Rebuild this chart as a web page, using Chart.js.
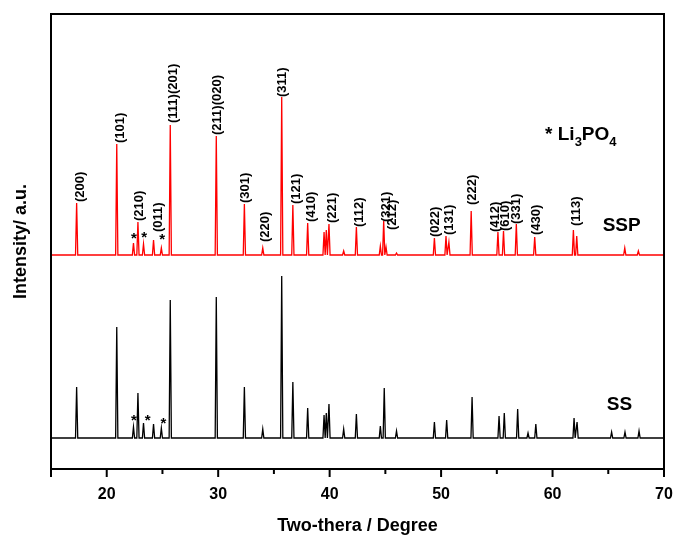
<!DOCTYPE html>
<html>
<head>
<meta charset="utf-8">
<script src="https://cdn.jsdelivr.net/npm/chart.js@4.4.1/dist/chart.umd.min.js"></script>
<style>
    html, body { margin: 0; padding: 0; background: #fff; }
</style>
</head>
<body>
<canvas id="xrdChart" width="675" height="539"></canvas>
<script>
// SSP (red, upper trace): baseline and peak list, 2θ in degrees / intensity a.u.
const sspBase = 214;
const sspPeakPos = [17.3, 20.9, 22.4, 22.8, 23.3, 24.2, 24.9, 25.7, 29.83, 32.35, 34.0, 35.7, 36.7, 38.03,
    39.5, 39.7, 39.94, 41.26, 42.4, 44.55, 44.85, 45.06, 46.0, 49.4, 50.44, 50.7, 52.7, 55.1, 55.6,
    56.75, 58.4, 61.87, 62.17, 66.48, 67.7];
const sspPeakInt = [266, 325, 226, 247, 225, 229, 221, 344, 333, 265, 221, 372, 264, 246,
    237, 239, 245, 218, 242, 223, 248, 222, 216, 231, 233, 227, 258, 237, 238,
    245, 232, 239, 233, 221, 218];

// SS (black, lower trace)
const ssBase = 31;
const ssPeakPos = [17.3, 20.9, 22.4, 22.8, 23.3, 24.2, 24.9, 25.7, 29.83, 32.35, 34.0, 35.7, 36.7, 38.03,
    39.5, 39.7, 39.94, 41.26, 42.4, 44.55, 44.9, 46.0, 49.4, 50.5, 52.78, 55.2, 55.67, 56.87, 57.8,
    58.5, 61.93, 62.2, 65.3, 66.5, 67.76];
const ssPeakInt = [82, 142, 42, 76, 46, 45, 41, 169, 172, 82, 40, 193, 87, 61,
    54, 56, 65, 40, 55, 43, 81, 38, 47, 49, 72, 53, 56, 60, 36,
    45, 51, 47, 37, 37, 38];

// hkl labels on the SSP trace
const hklText = ['(200)', '(101)', '(210)', '(011)', '(111)(201)', '(211)(020)', '(301)', '(220)', '(311)',
    '(121)', '(410)', '(221)', '(112)', '(321)', '(212)', '(022)', '(131)', '(222)', '(412)', '(610)',
    '(331)', '(430)', '(113)'];
const hklPos = [17.60, 21.19, 22.92, 24.63, 25.97, 29.96, 32.41, 34.20, 35.75,
    37.05, 38.33, 40.28, 42.66, 45.06, 45.66, 49.52, 50.71, 52.84, 54.90, 55.74,
    56.78, 58.52, 62.17];
const hklBase = [267, 326, 248, 237, 346, 334, 266, 227, 372,
    265, 247, 246, 242, 247, 239, 232, 234, 264, 237, 238,
    245, 234, 243];

// Li3PO4 impurity stars
const sspStarPos = [22.45, 23.35, 24.98];
const sspStarInt = [234, 235, 233];
const ssStarPos = [22.45, 23.68, 25.08];
const ssStarInt = [52, 52, 49];

const xTicks = [20, 30, 40, 50, 60, 70];

const FONT = 'Arial, "Liberation Sans", sans-serif';

function trace(base, pos, inten) {
    const pts = [{ x: 15, y: base }];
    pos.forEach(function (c, i) {
        pts.push({ x: c - 0.1, y: base });
        pts.push({ x: c, y: inten[i] });
        pts.push({ x: c + 0.1, y: base });
    });
    pts.push({ x: 70, y: base });
    return pts;
}

const decor = {
    id: 'decor',
    afterDatasetsDraw: function (chart) {
        const ctx = chart.ctx;
        const xs = chart.scales.x;
        const ys = chart.scales.y;
        const a = chart.chartArea;

        ctx.save();
        // frame
        ctx.strokeStyle = '#000';
        ctx.lineWidth = 2;
        ctx.beginPath();
        ctx.moveTo(a.left, a.bottom + 8);
        ctx.lineTo(a.left, a.top);
        ctx.lineTo(a.right, a.top);
        ctx.lineTo(a.right, a.bottom + 8);
        ctx.moveTo(a.left, a.bottom);
        ctx.lineTo(a.right, a.bottom);
        ctx.stroke();

        // ticks, minor every 5
        for (let v = 20; v <= 70; v += 5) {
            const px = xs.getPixelForValue(v);
            const len = v % 10 === 0 ? 8 : 5;
            ctx.beginPath();
            ctx.moveTo(px, a.bottom);
            ctx.lineTo(px, a.bottom + len);
            ctx.stroke();
        }

        // hkl labels
        ctx.fillStyle = '#000';
        ctx.font = 'bold 13px ' + FONT;
        ctx.textAlign = 'left';
        ctx.textBaseline = 'middle';
        hklText.forEach(function (t, i) {
            ctx.save();
            ctx.translate(xs.getPixelForValue(hklPos[i]), ys.getPixelForValue(hklBase[i]));
            ctx.rotate(-Math.PI / 2);
            ctx.fillText(t, 0, 0);
            ctx.restore();
        });

        // stars
        ctx.font = 'bold 15px ' + FONT;
        ctx.textAlign = 'center';
        ctx.textBaseline = 'middle';
        sspStarPos.forEach(function (p, i) {
            ctx.fillText('*', xs.getPixelForValue(p), ys.getPixelForValue(sspStarInt[i]) + 4);
        });
        ssStarPos.forEach(function (p, i) {
            ctx.fillText('*', xs.getPixelForValue(p), ys.getPixelForValue(ssStarInt[i]) + 4);
        });

        // legend text: * Li3PO4
        ctx.textAlign = 'left';
        ctx.textBaseline = 'alphabetic';
        let lx = xs.getPixelForValue(59.33);
        const ly = ys.getPixelForValue(329);
        const parts = [['* Li', 19, 0], ['3', 13, 6], ['PO', 19, 0], ['4', 13, 6]];
        parts.forEach(function (p) {
            ctx.font = 'bold ' + p[1] + 'px ' + FONT;
            ctx.fillText(p[0], lx, ly + p[2]);
            lx += ctx.measureText(p[0]).width;
        });

        ctx.font = 'bold 19px ' + FONT;
        ctx.textBaseline = 'middle';
        ctx.fillText('SSP', xs.getPixelForValue(64.5), ys.getPixelForValue(243));
        ctx.fillText('SS', xs.getPixelForValue(64.86), ys.getPixelForValue(64));
        ctx.restore();
    }
};

new Chart(document.getElementById('xrdChart'), {
    type: 'scatter',
    data: {
        datasets: [
            {
                label: 'SSP',
                data: trace(sspBase, sspPeakPos, sspPeakInt),
                showLine: true,
                borderColor: '#ff0000',
                borderWidth: 1.3,
                pointRadius: 0
            },
            {
                label: 'SS',
                data: trace(ssBase, ssPeakPos, ssPeakInt),
                showLine: true,
                borderColor: '#000000',
                borderWidth: 1.3,
                pointRadius: 0
            }
        ]
    },
    options: {
        responsive: false,
        animation: false,
        layout: { padding: { top: 14, right: 11, left: 0, bottom: 0 } },
        plugins: {
            legend: { display: false },
            tooltip: { enabled: false }
        },
        scales: {
            x: {
                type: 'linear',
                min: 15,
                max: 70,
                afterFit: function (s) {
                    s.height = 70;
                    s.paddingLeft = 0;
                    s.paddingRight = 0;
                },
                afterBuildTicks: function (s) {
                    s.ticks = xTicks.map(function (v) { return { value: v }; });
                },
                grid: { display: false },
                border: { display: false },
                ticks: {
                    color: '#000',
                    padding: 8,
                    maxRotation: 0,
                    autoSkip: false,
                    font: { family: FONT, size: 16, weight: 'bold' }
                },
                title: {
                    display: true,
                    text: 'Two-thera / Degree',
                    color: '#000',
                    padding: { top: 0, bottom: 2 },
                    font: { family: FONT, size: 18, weight: 'bold' }
                }
            },
            y: {
                min: 0,
                max: 455,
                afterFit: function (s) {
                    s.width = 51;
                    s.paddingTop = 0;
                    s.paddingBottom = 0;
                },
                grid: { display: false },
                border: { display: false },
                ticks: { display: false },
                title: {
                    display: true,
                    text: 'Intensity/ a.u.',
                    color: '#000',
                    padding: { top: 10, bottom: 0 },
                    font: { family: FONT, size: 18, weight: 'bold' }
                }
            }
        }
    },
    plugins: [decor]
});
</script>
</body>
</html>
